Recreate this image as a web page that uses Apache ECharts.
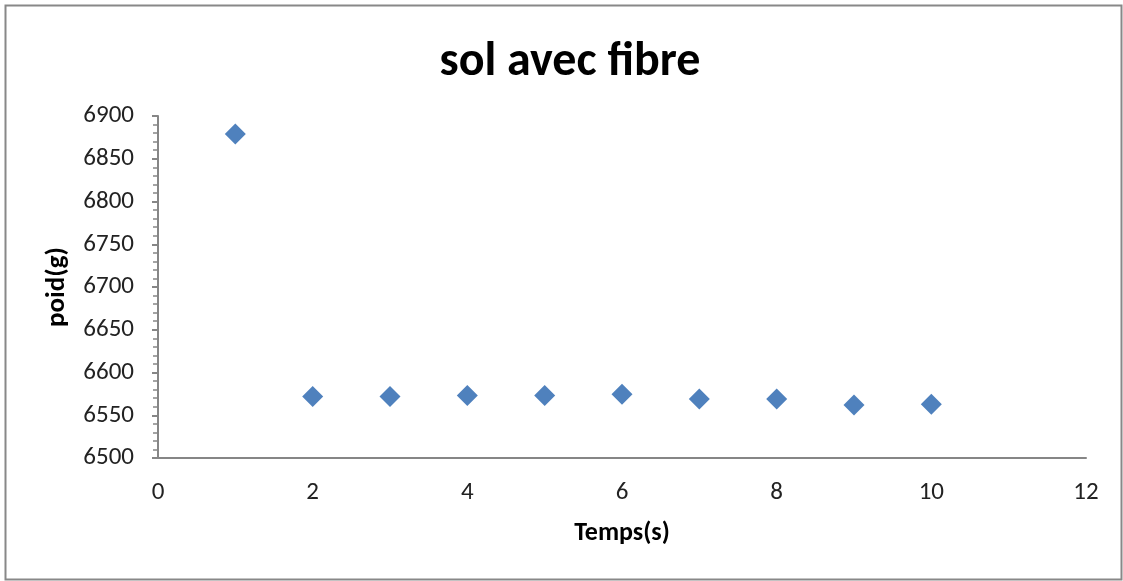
<!DOCTYPE html>
<html><head><meta charset="utf-8">
<script src="https://cdn.jsdelivr.net/npm/echarts@6/dist/echarts.min.js"></script>
<style>html,body{margin:0;padding:0;background:#fff}#c{width:1123px;height:581px}</style>
</head><body><div id="c"></div>
<script>
const xValues = [1, 2, 3, 4, 5, 6, 7, 8, 9, 10];
const weights = [6879, 6572, 6572, 6573, 6573, 6574.5, 6569, 6569, 6562, 6563];
const titleText = 'sol avec fibre';
const xName = 'Temps(s)';
const yName = 'poid(g)';

const chart = echarts.init(document.getElementById('c'));
const font = 'Carlito, "Open Sans", "Liberation Sans", sans-serif';
chart.setOption({
  animation: false,
  backgroundColor: '#fff',
  title: {text: titleText, left: 565, textAlign: 'center', top: 34,
    textStyle: {fontFamily: font, fontSize: 48, fontWeight: 'bold', color: '#000'}},
  grid: {left: 158, right: 37, top: 116, bottom: 123, containLabel: false},
  xAxis: {type: 'value', min: 0, max: 12, interval: 2,
    name: xName, nameLocation: 'middle', nameGap: 62,
    nameTextStyle: {fontFamily: font, fontSize: 26, fontWeight: 'bold', color: '#000'},
    axisLine: {show: true, onZero: false, lineStyle: {color: '#868686', width: 2}},
    axisTick: {show: false},
    splitLine: {show: false},
    axisLabel: {fontFamily: font, fontSize: 25, color: '#222', margin: 22}},
  yAxis: {type: 'value', min: 6500, max: 6900, interval: 50,
    name: yName, nameLocation: 'middle', nameGap: 87, nameRotate: 90,
    nameTextStyle: {fontFamily: font, fontSize: 27, fontWeight: 'bold', color: '#000'},
    axisLine: {show: true, lineStyle: {color: '#868686', width: 2}},
    axisTick: {show: true, length: 6, lineStyle: {color: '#868686', width: 2}},
    minorTick: {show: true, splitNumber: 5, length: 5, lineStyle: {color: '#868686', width: 1.5}},
    splitLine: {show: false},
    axisLabel: {fontFamily: font, fontSize: 25, color: '#222', margin: 24,
      formatter: v => String(v)}},
  series: [{type: 'scatter', symbol: 'diamond', symbolSize: 21,
    itemStyle: {color: '#4F81BD', opacity: 1},
    data: xValues.map((x, i) => [x, weights[i]])}],
  graphic: [{type: 'rect', left: 3, top: 3, shape: {width: 1116, height: 574},
    style: {fill: 'none', stroke: '#888', lineWidth: 2}, silent: true}]
});
</script></body></html>
